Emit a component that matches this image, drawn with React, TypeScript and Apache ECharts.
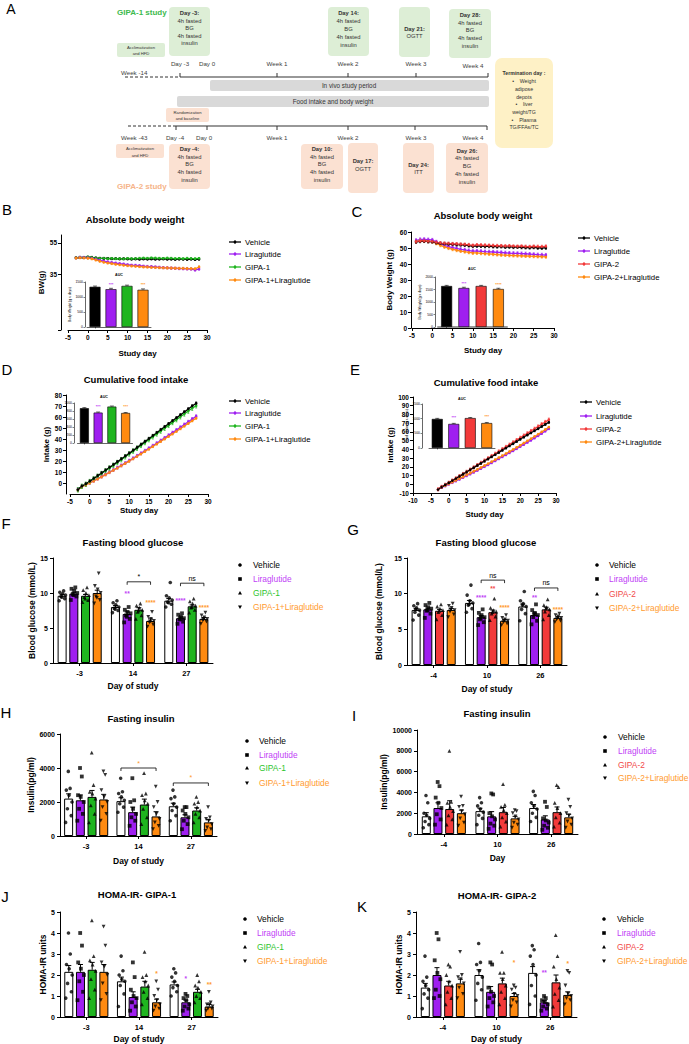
import React, { useEffect, useRef } from "react";
import * as echarts from "echarts";

const FONT = "'Liberation Sans', Arial, Helvetica, sans-serif";
const FONT_A = "'Liberation Sans Narrow', 'Liberation Sans', Arial, sans-serif";

const COL_VEH = "#000000";
const COL_LIRA = "#9f1ff0";
const COL_G1 = "#1fb51f";
const COL_G2 = "#f23a3a";
const COL_COMBO = "#ff8a10";
const TXT_LIRA = "#bf3ff6";
const TXT_G1 = "#2dc52d";
const TXT_G2 = "#f24a4a";
const TXT_COMBO = "#ff9a2e";

const NAMES_1 = ["Vehicle", "Liraglutide", "GIPA-1", "GIPA-1+Liraglutide"];
const NAMES_2 = ["Vehicle", "Liraglutide", "GIPA-2", "GIPA-2+Liraglutide"];

// ---------- B: absolute body weight, GIPA-1 ----------
const B_DAYS = [-3, -2, -1, 0, 1, 2, 3, 4, 5, 6, 7, 8, 9, 10, 11, 12, 13, 14, 15, 16, 17, 18, 19, 20, 21, 22, 23, 24, 25, 26, 27, 28];
const B_VEH = [45.6, 45.8, 45.7, 46.0, 45.9, 45.5, 45.3, 45.2, 45.2, 45.0, 45.1, 44.9, 45.0, 44.9, 44.8, 44.9, 44.7, 44.9, 44.8, 44.9, 44.7, 44.8, 44.9, 44.7, 44.8, 44.6, 44.8, 44.7, 44.6, 44.8, 44.5, 44.7];
const B_LIRA = [45.6, 45.9, 45.8, 45.7, 45.4, 44.8, 44.1, 43.5, 43.0, 42.6, 42.2, 41.9, 41.6, 41.2, 40.9, 40.8, 40.6, 40.3, 40.1, 40.0, 39.8, 39.6, 39.4, 39.3, 39.1, 39.0, 38.8, 38.7, 38.6, 38.5, 37.9, 38.5];
const B_GIPA = [45.7, 45.9, 45.8, 46.1, 45.8, 45.4, 45.2, 45.3, 45.1, 45.2, 45.0, 45.1, 44.9, 45.2, 45.0, 45.1, 45.3, 45.4, 45.3, 45.5, 45.4, 45.3, 45.2, 45.4, 45.3, 45.1, 45.2, 45.0, 45.3, 45.1, 45.0, 45.2];
const B_COMBO = [45.5, 45.7, 45.6, 45.4, 45.0, 44.3, 43.5, 42.9, 42.4, 42.0, 41.6, 41.3, 41.0, 40.7, 40.5, 40.3, 40.1, 39.9, 39.8, 39.6, 39.5, 39.4, 39.3, 39.2, 39.1, 39.0, 38.9, 38.9, 38.8, 38.7, 38.6, 39.8];
const B_SEM = [0.6, 0.7, 0.6, 0.7];
const B_AUC = [1340, 1260, 1370, 1240];
const B_AUC_SEM = [25, 30, 25, 30];

// ---------- C: absolute body weight, GIPA-2 ----------
const C_DAYS = [-4, -3, -2, -1, 0, 1, 2, 3, 4, 5, 6, 7, 8, 9, 10, 11, 12, 13, 14, 15, 16, 17, 18, 19, 20, 21, 22, 23, 24, 25, 26, 27, 28];
const C_VEH = [53.8, 54.2, 54.3, 54.0, 53.9, 53.2, 52.8, 52.6, 52.4, 52.3, 52.1, 52.0, 51.8, 51.5, 51.1, 51.3, 51.2, 51.0, 51.1, 50.9, 50.8, 50.9, 50.6, 50.7, 50.5, 50.6, 50.4, 50.3, 50.2, 50.4, 50.1, 50.0, 50.1];
const C_LIRA = [54.8, 55.3, 55.4, 55.2, 55.0, 53.8, 52.6, 51.6, 50.8, 50.2, 49.7, 49.2, 48.8, 48.4, 48.0, 48.1, 47.9, 47.7, 47.6, 47.5, 47.3, 47.2, 47.0, 46.8, 46.7, 46.6, 46.5, 46.4, 46.2, 46.0, 45.8, 45.7, 45.6];
const C_GIPA = [54.0, 54.4, 54.5, 54.2, 54.1, 53.5, 53.1, 52.9, 52.8, 52.6, 52.5, 52.3, 52.2, 52.0, 51.6, 51.9, 51.8, 51.7, 51.6, 51.5, 51.4, 51.3, 51.2, 51.3, 51.1, 51.0, 51.1, 50.9, 50.8, 51.0, 50.9, 50.8, 51.0];
const C_COMBO = [54.2, 54.6, 54.5, 54.3, 54.0, 52.9, 51.7, 50.7, 49.9, 49.2, 48.6, 48.1, 47.7, 47.3, 46.9, 46.9, 46.7, 46.5, 46.3, 46.1, 45.9, 45.7, 45.6, 45.4, 45.3, 45.2, 45.1, 45.0, 44.9, 44.8, 44.7, 44.6, 44.5];
const C_SEM = [0.9, 1.0, 0.9, 0.9];
const C_AUC = [1640, 1560, 1640, 1520];
const C_AUC_SEM = [25, 30, 25, 30];

// ---------- D: cumulative food intake, GIPA-1 ----------
const D_DAYS = [-3, -2, -1, 0, 1, 2, 3, 4, 5, 6, 7, 8, 9, 10, 11, 12, 13, 14, 15, 16, 17, 18, 19, 20, 21, 22, 23, 24, 25, 26, 27];
const D_VEH = [-6.0, -2.9, -0.9, 1.6, 4.1, 6.6, 9.1, 11.6, 14.1, 16.6, 19.2, 21.8, 24.4, 27.0, 29.6, 32.2, 34.9, 37.6, 40.3, 43.0, 45.7, 48.4, 51.1, 53.8, 56.5, 59.2, 61.9, 64.6, 67.3, 70.0, 72.5];
const D_LIRA = [-6.0, -3.2, -1.6, 0.2, 2.0, 3.9, 5.8, 7.8, 9.8, 11.8, 13.9, 16.0, 18.1, 20.3, 22.5, 24.7, 27.0, 29.3, 31.6, 33.9, 36.2, 38.6, 41.0, 43.4, 45.8, 48.2, 50.7, 53.2, 55.7, 58.2, 60.7];
const D_GIPA = [-6.2, -3.0, -1.1, 1.3, 3.7, 6.1, 8.6, 11.1, 13.6, 16.1, 18.6, 21.2, 23.8, 26.4, 29.0, 31.6, 34.2, 36.8, 39.4, 42.0, 44.6, 47.2, 49.8, 52.4, 55.0, 57.6, 60.2, 62.8, 65.4, 68.0, 70.2];
const D_COMBO = [-6.3, -3.4, -1.8, 0.0, 1.8, 3.7, 5.6, 7.6, 9.6, 11.6, 13.6, 15.7, 17.8, 19.9, 22.1, 24.3, 26.5, 28.7, 30.9, 33.2, 35.5, 37.8, 40.1, 42.4, 44.7, 47.0, 49.4, 51.8, 54.2, 56.6, 59.0];
const D_SEM = [1.2, 1.3, 2.0, 1.0];
const D_AUC = [870, 760, 910, 750];
const D_AUC_SEM = [15, 15, 15, 12];

// ---------- E: cumulative food intake, GIPA-2 ----------
const E_DAYS = [-3, -2, -1, 0, 1, 2, 3, 4, 5, 6, 7, 8, 9, 10, 11, 12, 13, 14, 15, 16, 17, 18, 19, 20, 21, 22, 23, 24, 25, 26, 27, 28];
const E_VEH = [-6.0, -3.2, -0.8, 1.6, 4.1, 6.6, 9.1, 11.6, 14.1, 16.6, 19.1, 21.6, 24.1, 26.6, 29.1, 31.6, 34.1, 36.6, 39.1, 41.6, 44.1, 46.6, 49.1, 51.6, 54.1, 56.6, 59.0, 61.4, 63.8, 66.2, 68.6, 71.0];
const E_LIRA = [-6.0, -3.6, -1.8, 0.1, 2.0, 3.9, 5.8, 7.8, 9.8, 11.8, 13.9, 16.0, 18.1, 20.3, 22.5, 24.7, 27.0, 29.3, 31.6, 33.9, 36.2, 38.5, 40.9, 43.3, 45.7, 48.1, 50.6, 53.1, 55.7, 58.3, 61.0, 63.8];
const E_GIPA = [-5.8, -3.0, -0.6, 1.8, 4.3, 6.8, 9.3, 11.8, 14.3, 16.8, 19.4, 22.0, 24.6, 27.2, 29.8, 32.4, 35.0, 37.6, 40.2, 42.8, 45.4, 48.0, 50.6, 53.2, 55.8, 58.4, 61.0, 63.6, 66.2, 68.8, 71.4, 74.0];
const E_COMBO = [-6.0, -3.4, -1.5, 0.5, 2.5, 4.5, 6.5, 8.5, 10.6, 12.7, 14.8, 16.9, 19.1, 21.3, 23.5, 25.8, 28.1, 30.4, 32.7, 35.0, 37.4, 39.8, 42.2, 44.6, 47.1, 49.6, 52.1, 54.7, 57.3, 59.9, 62.6, 65.4];
const E_SEM = [1.2, 1.2, 1.8, 1.0];
const E_AUC = [990, 820, 1020, 850];
const E_AUC_SEM = [20, 20, 20, 20];

// ---------- F: fasting blood glucose, GIPA-1 ----------
const F_CATS = ["-3", "14", "27"];
const F_MEAN = [[9.6, 8.0, 8.9], [9.9, 7.0, 6.4], [9.6, 7.6, 8.1], [10.0, 6.0, 6.3]];
const F_SEM = [[0.2, 0.2, 0.3], [0.2, 0.3, 0.2], [0.2, 0.3, 0.2], [0.4, 0.3, 0.2]];
const F_PTS = [
  [[8.9, 9.2, 9.5, 9.7, 9.9, 10.1, 10.3, 9.4], [7.2, 7.5, 7.8, 8.0, 8.3, 8.6, 8.9, 7.7], [8.0, 8.4, 8.7, 9.0, 9.3, 9.6, 11.5, 8.6]],
  [[9.0, 9.5, 9.8, 10.0, 10.3, 10.6, 10.8, 9.7], [5.8, 6.3, 6.8, 7.1, 7.3, 7.6, 8.0, 6.6], [5.6, 5.9, 6.2, 6.4, 6.6, 6.9, 7.1, 6.3]],
  [[8.7, 9.0, 9.4, 9.7, 10.0, 10.4, 10.8, 9.2], [6.3, 6.8, 7.3, 7.6, 7.9, 8.2, 8.5, 7.5], [7.2, 7.6, 7.9, 8.2, 8.5, 8.8, 9.2, 8.0]],
  [[8.5, 9.0, 9.5, 10.0, 10.5, 11.0, 12.8, 9.3], [5.2, 5.5, 5.8, 6.0, 6.3, 6.6, 7.3, 5.9], [5.6, 5.9, 6.1, 6.3, 6.5, 6.8, 7.2, 6.2]],
];
const F_STARS = [
  { g: 1, b: 1, y: 10.0, t: "**", c: TXT_LIRA },
  { g: 1, b: 3, y: 8.7, t: "****", c: TXT_COMBO },
  { g: 2, b: 1, y: 9.0, t: "****", c: TXT_LIRA },
  { g: 2, b: 3, y: 8.0, t: "****", c: TXT_COMBO },
];
const F_BRACKETS = [
  { g: 1, b1: 1, b2: 3, y: 11.6, t: "*", c: "#000" },
  { g: 2, b1: 1, b2: 3, y: 11.4, t: "ns", c: "#000" },
];

// ---------- G: fasting blood glucose, GIPA-2 ----------
const G_CATS = ["-4", "10", "26"];
const G_MEAN = [[7.7, 8.7, 8.2], [7.8, 6.7, 7.0], [7.6, 7.4, 7.8], [7.7, 6.2, 6.6]];
const G_SEM = [[0.2, 0.35, 0.35], [0.2, 0.25, 0.3], [0.2, 0.3, 0.3], [0.2, 0.15, 0.15]];
const G_PTS = [
  [[6.3, 7.0, 7.4, 7.7, 8.0, 8.3, 8.6, 7.8], [7.4, 7.9, 8.4, 8.7, 9.0, 9.8, 11.2, 8.5], [6.2, 7.2, 7.8, 8.2, 8.6, 9.0, 10.3, 8.4]],
  [[6.6, 7.2, 7.6, 7.9, 8.1, 8.4, 8.7, 7.7], [5.6, 6.0, 6.4, 6.7, 7.0, 7.3, 7.8, 6.6], [5.7, 6.2, 6.7, 7.0, 7.3, 7.7, 8.5, 7.1]],
  [[6.4, 7.0, 7.4, 7.7, 7.9, 8.2, 8.5, 7.6], [6.3, 6.8, 7.2, 7.5, 7.7, 8.0, 9.3, 7.4], [6.4, 7.0, 7.5, 7.8, 8.1, 8.4, 9.2, 7.9]],
  [[6.7, 7.1, 7.5, 7.7, 8.0, 8.3, 8.6, 7.8], [5.6, 5.8, 6.0, 6.2, 6.4, 6.6, 7.0, 6.2], [6.0, 6.2, 6.4, 6.6, 6.8, 7.0, 7.2, 6.6]],
];
const G_STARS = [
  { g: 1, b: 1, y: 9.4, t: "****", c: TXT_LIRA },
  { g: 1, b: 2, y: 10.7, t: "**", c: TXT_G2 },
  { g: 1, b: 3, y: 8.0, t: "****", c: TXT_COMBO },
  { g: 2, b: 1, y: 9.5, t: "**", c: TXT_LIRA },
  { g: 2, b: 3, y: 7.8, t: "****", c: TXT_COMBO },
];
const G_BRACKETS = [
  { g: 1, b1: 1, b2: 3, y: 11.9, t: "ns", c: "#000" },
  { g: 2, b1: 1, b2: 3, y: 10.8, t: "ns", c: "#000" },
];

// ---------- H: fasting insulin, GIPA-1 ----------
const H_CATS = ["-3", "14", "27"];
const H_MEAN = [[2200, 2050, 1750], [2100, 1400, 1100], [2300, 1850, 1500], [2150, 1150, 800]];
const H_SEM = [[280, 200, 180], [320, 300, 150], [380, 320, 160], [300, 280, 160]];
const H_PTS = [
  [[800, 1200, 1600, 2000, 2400, 2700, 2800, 3800], [1400, 1700, 1900, 2100, 2300, 2500, 2600, 3400], [900, 1200, 1500, 1700, 1900, 2200, 2300, 2700]],
  [[900, 1300, 1600, 2000, 2300, 2400, 3500, 4000], [600, 900, 1100, 1300, 1600, 2000, 2100, 3400], [400, 700, 900, 1100, 1300, 1500, 1700, 1700]],
  [[800, 1300, 1800, 2200, 2500, 2600, 3000, 4900], [700, 1100, 1600, 1900, 2100, 2400, 2500, 3700], [800, 1100, 1300, 1500, 1700, 1900, 2000, 2300]],
  [[900, 1300, 1700, 2000, 2300, 2700, 3600, 3800], [400, 600, 800, 1000, 1300, 1700, 2000, 2900], [300, 400, 500, 700, 900, 1000, 1100, 1700]],
];
const H_BRACKETS = [
  { g: 1, b1: 0, b2: 3, y: 4000, t: "*", c: TXT_COMBO },
  { g: 2, b1: 0, b2: 3, y: 3120, t: "*", c: TXT_COMBO },
];

// ---------- I: fasting insulin, GIPA-2 ----------
const I_CATS = ["-4", "10", "26"];
const I_MEAN = [[1700, 2200, 2500], [2500, 1700, 1400], [2400, 2100, 2100], [2000, 1500, 1600]];
const I_SEM = [[350, 280, 330], [500, 450, 350], [800, 450, 500], [300, 200, 300]];
const I_PTS = [
  [[600, 900, 1200, 1500, 1800, 2000, 3000, 3700], [900, 1500, 1800, 2100, 2400, 2700, 3000, 3500], [1200, 1600, 2000, 2400, 2700, 3000, 3700, 4100]],
  [[900, 1400, 1900, 2500, 3000, 3500, 4600, 5000], [500, 800, 1000, 1400, 1700, 2000, 3800, 3900], [400, 600, 800, 1100, 1300, 1500, 2600, 3100]],
  [[900, 1400, 1800, 2200, 2600, 3000, 3100, 8000], [700, 1200, 1600, 2000, 2300, 2600, 2800, 4800], [700, 1100, 1600, 2000, 2500, 3000, 4500, 4700]],
  [[800, 1100, 1500, 1900, 2200, 2600, 2700, 3600], [600, 900, 1100, 1400, 1700, 2000, 2200, 2300], [600, 900, 1200, 1500, 1800, 2000, 2600, 3300]],
];

// ---------- J: HOMA-IR GIPA-1 ----------
const J_CATS = ["-3", "14", "27"];
const J_MEAN = [[2.15, 1.7, 1.55], [2.15, 0.95, 0.7], [2.25, 1.45, 1.2], [2.15, 0.7, 0.5]];
const J_SEM = [[0.3, 0.2, 0.12], [0.35, 0.25, 0.1], [0.35, 0.25, 0.12], [0.35, 0.15, 0.1]];
const J_PTS = [
  [[0.9, 1.2, 1.6, 2.0, 2.3, 2.5, 3.0, 4.0], [0.5, 1.1, 1.5, 1.7, 1.8, 2.0, 2.2, 2.9], [1.0, 1.2, 1.4, 1.5, 1.7, 1.9, 2.1, 2.3]],
  [[0.8, 1.2, 1.7, 2.0, 2.3, 2.6, 3.4, 4.0], [0.3, 0.5, 0.7, 0.9, 1.0, 1.3, 1.9, 2.6], [0.3, 0.4, 0.5, 0.6, 0.8, 0.9, 1.0, 1.1]],
  [[0.9, 1.3, 1.8, 2.2, 2.5, 2.7, 2.9, 4.6], [0.6, 0.9, 1.2, 1.5, 1.7, 1.9, 2.0, 3.1], [0.7, 0.9, 1.0, 1.2, 1.4, 1.5, 1.7, 2.0]],
  [[0.8, 1.1, 1.6, 2.0, 2.4, 2.6, 3.4, 4.3], [0.3, 0.4, 0.5, 0.6, 0.8, 1.0, 1.3, 1.7], [0.3, 0.4, 0.4, 0.5, 0.6, 0.6, 0.7, 1.2]],
];
const J_STARS = [
  { g: 1, b: 3, y: 2.05, t: "*", c: TXT_COMBO },
  { g: 2, b: 1, y: 1.85, t: "*", c: TXT_LIRA },
  { g: 2, b: 3, y: 1.55, t: "**", c: TXT_COMBO },
];

// ---------- K: HOMA-IR GIPA-2 ----------
const K_CATS = ["-4", "10", "26"];
const K_MEAN = [[1.4, 2.0, 2.1], [2.0, 1.2, 0.7], [1.5, 1.6, 1.65], [1.6, 1.0, 1.05]];
const K_SEM = [[0.2, 0.25, 0.3], [0.35, 0.25, 0.08], [0.2, 0.25, 0.35], [0.2, 0.12, 0.15]];
const K_PTS = [
  [[0.4, 0.9, 1.1, 1.3, 1.5, 1.7, 1.9, 2.9], [0.8, 1.3, 1.6, 1.9, 2.2, 2.5, 2.6, 3.5], [0.6, 1.0, 1.5, 2.0, 2.5, 2.9, 3.2, 3.4]],
  [[0.9, 1.0, 1.3, 1.8, 2.1, 2.7, 3.7, 4.0], [0.5, 0.7, 0.9, 1.0, 1.2, 1.4, 2.5, 2.6], [0.3, 0.4, 0.5, 0.6, 0.7, 0.8, 0.9, 1.0]],
  [[0.6, 0.9, 1.2, 1.5, 1.7, 2.0, 2.4, 2.5], [0.6, 0.9, 1.2, 1.5, 1.8, 2.1, 2.1, 3.1], [0.5, 0.8, 1.1, 1.4, 1.8, 2.4, 2.9, 3.9]],
  [[0.9, 1.1, 1.4, 1.6, 1.8, 1.9, 2.0, 3.1], [0.5, 0.7, 0.8, 1.0, 1.1, 1.3, 1.4, 1.5], [0.6, 0.8, 0.9, 1.0, 1.1, 1.5, 2.1, 2.2]],
];
const K_STARS = [
  { g: 1, b: 3, y: 2.6, t: "*", c: TXT_COMBO },
  { g: 2, b: 1, y: 2.1, t: "**", c: TXT_LIRA },
  { g: 2, b: 3, y: 2.55, t: "*", c: TXT_COMBO },
];

const SYMS = ["circle", "rect", "triangle", "triangle"];
const JITTER = [-3, 2.6, -1.2, 3.4, 0.4, -2.3, 1.5, -0.3];
const BW = 9;
const BGAP = 2.7;
const dxOf = (b: number) => (b - 1.5) * (BW + BGAP);
const plain = (v: number) => String(v);

function T(x: number, y: number, text: string, o: any = {}) {
  const align = o.align || "center";
  const va = o.va || "middle";
  return {
    type: "text",
    x,
    y,
    rotation: o.rot || 0,
    silent: true,
    z: 10,
    style: {
      text,
      fill: o.fill || "#000",
      fontSize: o.size || 8,
      fontFamily: o.family || FONT,
      fontWeight: o.weight || "normal",
      align,
      verticalAlign: va,
      textAlign: align,
      textVerticalAlign: va,
    },
  };
}

function errRender(color: string, cap: number, dx: number, lw: number, both: boolean) {
  return (params: any, api: any) => {
    const x = api.value(0);
    const lo = api.coord([x, api.value(1)]);
    const hi = api.coord([x, api.value(2)]);
    const px = lo[0] + dx;
    const ch: any[] = [
      { type: "line", shape: { x1: px, y1: lo[1], x2: px, y2: hi[1] }, style: { stroke: color, lineWidth: lw } },
      { type: "line", shape: { x1: px - cap, y1: hi[1], x2: px + cap, y2: hi[1] }, style: { stroke: color, lineWidth: lw } },
    ];
    if (both) ch.push({ type: "line", shape: { x1: px - cap, y1: lo[1], x2: px + cap, y2: lo[1] }, style: { stroke: color, lineWidth: lw } });
    return { type: "group", children: ch };
  };
}

function buildOption() {
  const grid: any[] = [];
  const xAxis: any[] = [];
  const yAxis: any[] = [];
  const series: any[] = [];
  const els: any[] = [];

  const lbl = (fs: number, extra: any = {}) => ({ color: "#000", fontSize: fs, fontWeight: "bold", fontFamily: FONT, ...extra });
  const axLine = (color = "#000", width = 1) => ({ show: true, onZero: false, lineStyle: { color, width } });
  const tick = (len = 3, extra: any = {}) => ({ show: true, length: len, lineStyle: { color: "#000", width: 1 }, ...extra });
  const nameStyle = (fs: number) => ({ color: "#000", fontSize: fs, fontWeight: "bold", fontFamily: FONT });
  const addGrid = (g: any) => {
    grid.push({ ...g, containLabel: false });
    return grid.length - 1;
  };

  function starsSeries(gi: number, items: any[], dx: (b: number) => number, fs: number) {
    return {
      type: "custom",
      coordinateSystem: "cartesian2d",
      xAxisIndex: gi,
      yAxisIndex: gi,
      z: 7,
      silent: true,
      clip: false,
      encode: { x: 0, y: 1 },
      data: items.map((s) => [s.g, s.y]),
      renderItem: (params: any, api: any) => {
        const s = items[params.dataIndex];
        const p = api.coord([api.value(0), api.value(1)]);
        return {
          type: "text",
          x: p[0] + dx(s.b || 0),
          y: p[1],
          style: { text: s.t, fill: s.c, fontSize: fs, fontFamily: FONT, fontWeight: "bold", align: "center", verticalAlign: "middle", textAlign: "center", textVerticalAlign: "middle" },
        };
      },
    };
  }

  function bracketSeries(gi: number, items: any[]) {
    return {
      type: "custom",
      coordinateSystem: "cartesian2d",
      xAxisIndex: gi,
      yAxisIndex: gi,
      z: 7,
      silent: true,
      clip: false,
      encode: { x: 0, y: 1 },
      data: items.map((s) => [s.g, s.y]),
      renderItem: (params: any, api: any) => {
        const s = items[params.dataIndex];
        const p = api.coord([api.value(0), api.value(1)]);
        const x1 = p[0] + dxOf(s.b1);
        const x2 = p[0] + dxOf(s.b2);
        const y = p[1];
        return {
          type: "group",
          children: [
            { type: "polyline", shape: { points: [[x1, y + 3], [x1, y], [x2, y], [x2, y + 3]] }, style: { stroke: "#000", lineWidth: 0.8, fill: null } },
            {
              type: "text",
              x: (x1 + x2) / 2,
              y: y - 1.5,
              style: { text: s.t, fill: s.c, fontSize: 7, fontFamily: FONT, align: "center", verticalAlign: "bottom", textAlign: "center", textVerticalAlign: "bottom" },
            },
          ],
        };
      },
    };
  }

  function linePanel(p: any) {
    const gi = addGrid(p.grid);
    xAxis.push({
      gridIndex: gi, type: "value", min: p.x[0], max: p.x[1], interval: p.x[2],
      name: p.xName, nameLocation: "middle", nameGap: p.xGap, nameTextStyle: nameStyle(8),
      axisLine: axLine(), axisTick: tick(3), axisLabel: lbl(6.5, { margin: 4, formatter: plain }), splitLine: { show: false },
    });
    const yl: any = lbl(6.5, { margin: 4, formatter: plain });
    const yt: any = tick(3);
    if (p.yLabels) {
      yl.customValues = p.yLabels;
      yt.customValues = p.yTicks || p.yLabels;
    }
    if (p.hideMin) yl.showMinLabel = false;
    yAxis.push({
      gridIndex: gi, type: "value", min: p.y[0], max: p.y[1], interval: p.y[2], offset: p.yOffset || 0,
      name: p.yName, nameLocation: "middle", nameRotate: 90, nameGap: p.yGap, nameTextStyle: nameStyle(8),
      axisLine: axLine(), axisTick: yt, axisLabel: yl, splitLine: { show: false },
    });
    p.lines.forEach((ln: any) => {
      series.push({
        type: "custom", coordinateSystem: "cartesian2d", xAxisIndex: gi, yAxisIndex: gi, z: 3, silent: true,
        encode: { x: 0, y: [1, 2] },
        data: p.days.map((d: number, i: number) => [d, ln.v[i] - ln.sem, ln.v[i] + ln.sem]),
        renderItem: errRender(ln.color, 1, 0, 0.7, true),
      });
      series.push({
        type: "line", xAxisIndex: gi, yAxisIndex: gi, z: 4, silent: true,
        data: p.days.map((d: number, i: number) => [d, ln.v[i]]),
        symbol: "circle", symbolSize: 2.6, showSymbol: true, showAllSymbol: true,
        itemStyle: { color: ln.color }, lineStyle: { color: ln.color, width: 1.3 },
      });
    });
  }

  function insetPanel(p: any) {
    const gi = addGrid(p.grid);
    xAxis.push({
      gridIndex: gi, type: "category", data: p.names,
      axisLine: axLine(p.axisColor || "#000", p.axisWidth || 0.6),
      axisTick: { show: true, length: 1.5, alignWithLabel: true, lineStyle: { color: "#000", width: 0.5 } },
      axisLabel: { show: false }, splitLine: { show: false },
    });
    yAxis.push({
      gridIndex: gi, type: "value", min: 0, max: p.y[0], interval: p.y[1], offset: p.yOffset || 0,
      name: p.yName, nameLocation: "middle", nameRotate: 90, nameGap: p.yGap || 9,
      nameTextStyle: { color: "#000", fontSize: 3.4, fontFamily: FONT },
      axisLine: axLine("#000", 0.6),
      axisTick: { show: true, length: 1.5, lineStyle: { color: "#000", width: 0.5 } },
      axisLabel: { color: "#000", fontSize: 3.4, fontFamily: FONT, margin: 2, formatter: plain }, splitLine: { show: false },
    });
    series.push({
      type: "bar", xAxisIndex: gi, yAxisIndex: gi, z: 5, silent: true, barWidth: p.barWidth,
      data: p.values.map((v: number, i: number) => ({ value: v, itemStyle: { color: p.colors[i], borderColor: "#000", borderWidth: 0.6 } })),
    });
    series.push({
      type: "custom", coordinateSystem: "cartesian2d", xAxisIndex: gi, yAxisIndex: gi, z: 6, silent: true,
      encode: { x: 0, y: [1, 2] },
      data: p.values.map((v: number, i: number) => [i, v, v + p.sems[i]]),
      renderItem: errRender("#000", 2, 0, 0.6, false),
    });
    series.push(starsSeries(gi, p.stars, () => 0, 4));
    els.push(T(p.auc[0], p.auc[1], "AUC", { size: 3.6, weight: "bold" }));
  }

  function barPanel(p: any) {
    const gi = addGrid(p.grid);
    xAxis.push({
      gridIndex: gi, type: "category", data: p.cats,
      name: p.xName, nameLocation: "middle", nameGap: p.xGap, nameTextStyle: nameStyle(8.5),
      axisLine: axLine(), axisTick: tick(3, { alignWithLabel: true }), axisLabel: lbl(7.5, { margin: 6 }), splitLine: { show: false },
    });
    yAxis.push({
      gridIndex: gi, type: "value", min: 0, max: p.y[0], interval: p.y[1],
      name: p.yName, nameLocation: "middle", nameRotate: 90, nameGap: p.yGap, nameTextStyle: nameStyle(8.5),
      axisLine: axLine(), axisTick: tick(3), axisLabel: lbl(7, { margin: 5, formatter: plain }), splitLine: { show: false },
    });
    p.means.forEach((m: number[], b: number) => {
      series.push({
        type: "bar", xAxisIndex: gi, yAxisIndex: gi, z: 2, silent: true, barWidth: BW, barGap: "30%", data: m,
        itemStyle: { color: b === 0 ? "#ffffff" : p.colors[b], borderColor: "#000", borderWidth: 1 },
      });
    });
    p.means.forEach((m: number[], b: number) => {
      series.push({
        type: "custom", coordinateSystem: "cartesian2d", xAxisIndex: gi, yAxisIndex: gi, z: 4, silent: true,
        encode: { x: 0, y: [1, 2] },
        data: m.map((v, g) => [g, v, v + p.sems[b][g]]),
        renderItem: errRender("#000", 2.5, dxOf(b), 1, false),
      });
      series.push({
        type: "scatter", xAxisIndex: gi, yAxisIndex: gi, z: 5, silent: true,
        symbol: SYMS[b], symbolRotate: b === 3 ? 180 : 0, symbolSize: b === 0 ? 3.6 : 3.8,
        itemStyle: { color: "#000" },
        data: p.points[b].flatMap((arr: number[], g: number) =>
          arr.map((v, k) => ({ value: [g, v], symbolOffset: [dxOf(b) + JITTER[k % JITTER.length], 0] }))
        ),
      });
    });
    if (p.stars && p.stars.length) series.push(starsSeries(gi, p.stars, dxOf, 6.5));
    if (p.brackets && p.brackets.length) series.push(bracketSeries(gi, p.brackets));
  }

  function lineLegend(x0: number, tx: number, ys: number[], names: string[], colors: string[]) {
    names.forEach((n, i) => {
      els.push({ type: "line", silent: true, shape: { x1: x0, y1: ys[i], x2: x0 + 12, y2: ys[i] }, style: { stroke: colors[i], lineWidth: 1.3 } });
      els.push({ type: "circle", silent: true, shape: { cx: x0 + 6, cy: ys[i], r: 1.4 }, style: { fill: colors[i] } });
      els.push({ type: "line", silent: true, shape: { x1: x0 + 6, y1: ys[i] - 2, x2: x0 + 6, y2: ys[i] + 2 }, style: { stroke: colors[i], lineWidth: 0.7 } });
      els.push(T(tx, ys[i], n, { size: 7.8, align: "left" }));
    });
  }

  function markerLegend(mx: number, tx: number, ys: number[], names: string[], tcolors: string[]) {
    names.forEach((n, i) => {
      const y = ys[i];
      if (i === 0) els.push({ type: "circle", silent: true, shape: { cx: mx, cy: y, r: 1.8 }, style: { fill: "#000" } });
      if (i === 1) els.push({ type: "rect", silent: true, shape: { x: mx - 1.8, y: y - 1.8, width: 3.6, height: 3.6 }, style: { fill: "#000" } });
      if (i === 2) els.push({ type: "polygon", silent: true, shape: { points: [[mx, y - 2], [mx + 2, y + 1.6], [mx - 2, y + 1.6]] }, style: { fill: "#000" } });
      if (i === 3) els.push({ type: "polygon", silent: true, shape: { points: [[mx, y + 2], [mx + 2, y - 1.6], [mx - 2, y - 1.6]] }, style: { fill: "#000" } });
      els.push(T(tx, y, n, { size: 8.4, align: "left", fill: tcolors[i] }));
    });
  }

  // ---------------- Panel A (study design) ----------------
  const GREEN = "#ddeed6";
  const PEACH = "#fbe1d2";
  const YELLOW = "#fef1c6";
  const GREY = "#d9d9d9";
  const box = (x: number, y: number, w: number, h: number, fill: string, r = 4) =>
    ({ type: "rect", silent: true, shape: { x, y, width: w, height: h, r }, style: { fill } });
  const boxLines = (cx: number, ys: number[], txts: string[], boldFirst = true, size = 5.8) =>
    txts.forEach((t, i) => els.push(T(cx, ys[i], t, { size, family: FONT_A, weight: boldFirst && i === 0 ? "bold" : "normal", fill: "#333" })));

  els.push(T(11, 9, "A", { size: 14 }));
  els.push(T(117, 12, "GIPA-1 study", { size: 8, weight: "bold", fill: "#3dba4e", align: "left" }));
  els.push(T(117, 186, "GIPA-2 study", { size: 8, weight: "bold", fill: "#f6b48a", align: "left" }));

  els.push(box(169, 7, 41, 49, GREEN));
  boxLines(189.5, [13, 21, 28, 36, 43], ["Day -3:", "4h fasted", "BG", "4h fasted", "insulin"]);
  els.push(box(117, 43, 48, 14, GREEN, 2));
  boxLines(141, [47, 53], ["Acclimatization", "and HFD"], false, 4.2);
  els.push(box(328, 7, 41, 49, GREEN));
  boxLines(348.5, [13, 21, 29, 37, 45], ["Day 14:", "4h fasted", "BG", "4h fasted", "insulin"]);
  els.push(box(399, 7, 31, 50, GREEN));
  boxLines(414.5, [29, 36], ["Day 21:", "OGTT"]);
  els.push(box(449, 9, 42, 49, GREEN));
  boxLines(470, [15, 23, 30, 38, 46], ["Day 28:", "4h fasted", "BG", "4h fasted", "insulin"]);

  // timeline 1
  [["Day -3", 180], ["Day 0", 207], ["Week 1", 277], ["Week 2", 348], ["Week 3", 416], ["Week 4", 473]].forEach(([t, x]: any) =>
    els.push(T(x, t === "Week 4" ? 65 : 63, t, { size: 6.2, family: FONT_A, fill: "#404040" }))
  );
  els.push(T(121, 72, "Week -14", { size: 6.2, family: FONT_A, fill: "#404040", align: "left" }));
  els.push({ type: "line", silent: true, shape: { x1: 125, y1: 77, x2: 180, y2: 77 }, style: { stroke: "#333", lineWidth: 1, lineDash: [3, 2] } });
  els.push({ type: "line", silent: true, shape: { x1: 180, y1: 77, x2: 488, y2: 77 }, style: { stroke: "#333", lineWidth: 1.2 } });
  [180, 277, 348, 416, 488].forEach((x) =>
    els.push({ type: "line", silent: true, shape: { x1: x, y1: 73, x2: x, y2: 77 }, style: { stroke: "#333", lineWidth: 1 } })
  );

  els.push(box(210, 80, 279, 11, GREY, 2));
  els.push(T(349, 85.5, "In vivo study period", { size: 6.3, family: FONT_A, fill: "#333" }));
  els.push(box(177, 96, 312, 11, GREY, 2));
  els.push(T(333, 101.5, "Food intake and body weight", { size: 6.3, family: FONT_A, fill: "#333" }));

  els.push(box(166, 108, 43, 14, PEACH, 2));
  boxLines(187.5, [112, 118], ["Randomization", "and baseline"], false, 4.2);

  // timeline 2
  els.push({ type: "line", silent: true, shape: { x1: 128, y1: 126, x2: 176, y2: 126 }, style: { stroke: "#333", lineWidth: 1, lineDash: [3, 2] } });
  els.push({ type: "line", silent: true, shape: { x1: 176, y1: 126, x2: 487, y2: 126 }, style: { stroke: "#333", lineWidth: 1.2 } });
  [176, 207, 277, 348, 415, 487].forEach((x) =>
    els.push({ type: "line", silent: true, shape: { x1: x, y1: 126, x2: x, y2: 130 }, style: { stroke: "#333", lineWidth: 1 } })
  );
  [["Day -4", 175], ["Day 0", 204], ["Week 1", 277], ["Week 2", 348], ["Week 3", 416], ["Week 4", 473]].forEach(([t, x]: any) =>
    els.push(T(x, 137, t, { size: 6.2, family: FONT_A, fill: "#404040" }))
  );
  els.push(T(121, 137, "Week -43", { size: 6.2, family: FONT_A, fill: "#404040", align: "left" }));

  els.push(box(116, 144, 48, 14, PEACH, 2));
  boxLines(140, [148, 155], ["Acclimatization", "and HFD"], false, 4.2);
  els.push(box(169, 144, 41, 45, PEACH));
  boxLines(189.5, [149, 157, 164, 172, 180], ["Day -4:", "4h fasted", "BG", "4h fasted", "insulin"]);
  els.push(box(301, 144, 42, 45, PEACH));
  boxLines(322, [149, 157, 164, 172, 180], ["Day 10:", "4h fasted", "BG", "4h fasted", "insulin"]);
  els.push(box(348, 143, 30, 50, PEACH));
  boxLines(363, [161, 169], ["Day 17:", "OGTT"]);
  els.push(box(403, 143, 31, 50, PEACH));
  boxLines(418.5, [165, 172], ["Day 24:", "ITT"]);
  els.push(box(446, 143, 42, 50, PEACH));
  boxLines(467, [151, 158, 166, 174, 182], ["Day 26:", "4h fasted", "BG", "4h fasted", "insulin"]);

  els.push(box(495, 58, 58, 90, YELLOW, 7));
  boxLines(524, [73, 81, 89, 97, 104, 112, 120, 127],
    ["Termination day :", "•    Weight", "adipose", "depots", "•    liver", "weight/TG", "•    Plasma", "TG/FFAs/TC"], true, 5.2);

  // ---------------- Panel letters & titles ----------------
  const letters: any[] = [["B", 7, 209], ["C", 357, 211], ["D", 7, 369], ["E", 355, 369], ["F", 6, 523], ["G", 353, 529], ["H", 6, 712], ["I", 354, 715], ["J", 5, 896], ["K", 362, 906]];
  letters.forEach(([t, x, y]) => els.push(T(x, y, t, { size: 15 })));
  const titles: any[] = [
    ["Absolute body weight", 135, 219], ["Absolute body weight", 483, 215],
    ["Cumulative food intake", 136, 379], ["Cumulative food intake", 486, 382],
    ["Fasting blood glucose", 133, 542], ["Fasting blood glucose", 486, 542],
    ["Fasting insulin", 141, 718], ["Fasting insulin", 497, 713],
    ["HOMA-IR- GIPA-1", 137, 894], ["HOMA-IR- GIPA-2", 497, 895],
  ];
  titles.forEach(([t, x, y]) => els.push(T(x, y, t, { size: 9.5, weight: "bold" })));

  // ---------------- B ----------------
  linePanel({
    grid: { left: 68, top: 235, width: 139, height: 95 },
    x: [-5, 30, 5], y: [0, 60, 5], yLabels: [35, 55], yTicks: [0, 35, 55], yOffset: 7,
    xName: "Study day", xGap: 19, yName: "BW(g)", yGap: 14, days: B_DAYS,
    lines: [
      { v: B_VEH, sem: B_SEM[0], color: COL_VEH },
      { v: B_GIPA, sem: B_SEM[2], color: COL_G1 },
      { v: B_LIRA, sem: B_SEM[1], color: COL_LIRA },
      { v: B_COMBO, sem: B_SEM[3], color: COL_COMBO },
    ],
  });
  insetPanel({
    grid: { left: 87, top: 282, width: 64, height: 45 }, names: NAMES_1, y: [1500, 500], yOffset: 2,
    yName: "Body Weight (g x days)", yGap: 9, barWidth: 11, values: B_AUC, sems: B_AUC_SEM,
    colors: [COL_VEH, COL_LIRA, COL_G1, COL_COMBO], auc: [119, 275],
    stars: [{ g: 1, y: 1420, t: "***", c: TXT_LIRA }, { g: 3, y: 1410, t: "***", c: TXT_COMBO }],
  });
  lineLegend(229, 245, [242, 254, 267, 280], NAMES_1, [COL_VEH, COL_LIRA, COL_G1, COL_COMBO]);

  // ---------------- C ----------------
  linePanel({
    grid: { left: 412, top: 232, width: 142, height: 96 },
    x: [-5, 30, 5], y: [0, 60, 10], yOffset: 1,
    xName: "Study day", xGap: 18, yName: "Body Weight (g)", yGap: 18, days: C_DAYS,
    lines: [
      { v: C_LIRA, sem: C_SEM[1], color: COL_LIRA },
      { v: C_COMBO, sem: C_SEM[3], color: COL_COMBO },
      { v: C_VEH, sem: C_SEM[0], color: COL_VEH },
      { v: C_GIPA, sem: C_SEM[2], color: COL_G2 },
    ],
  });
  insetPanel({
    grid: { left: 438, top: 277, width: 69, height: 50 }, names: NAMES_2, y: [2000, 500], yOffset: 3,
    yName: "Body Weight (g x days)", yGap: 10, barWidth: 11, values: C_AUC, sems: C_AUC_SEM,
    colors: [COL_VEH, COL_LIRA, COL_G2, COL_COMBO], auc: [472, 269], axisColor: "#9a9a9a", axisWidth: 2,
    stars: [{ g: 1, y: 1740, t: "***", c: TXT_LIRA }, { g: 3, y: 1720, t: "****", c: TXT_COMBO }],
  });
  lineLegend(578, 594, [238, 251, 264, 277], NAMES_2, [COL_VEH, COL_LIRA, COL_G2, COL_COMBO]);

  // ---------------- D ----------------
  linePanel({
    grid: { left: 70, top: 395, width: 138, height: 99 },
    x: [-5, 30, 5], y: [-10, 80, 10], hideMin: true, yOffset: 4,
    xName: "Study day", xGap: 12, yName: "Intake (g)", yGap: 16, days: D_DAYS,
    lines: [
      { v: D_LIRA, sem: D_SEM[1], color: COL_LIRA },
      { v: D_COMBO, sem: D_SEM[3], color: COL_COMBO },
      { v: D_GIPA, sem: D_SEM[2], color: COL_G1 },
      { v: D_VEH, sem: D_SEM[0], color: COL_VEH },
    ],
  });
  insetPanel({
    grid: { left: 77.5, top: 403, width: 55, height: 40 }, names: NAMES_1, y: [1000, 200], yOffset: 3.5,
    yName: "", barWidth: 9, values: D_AUC, sems: D_AUC_SEM,
    colors: [COL_VEH, COL_LIRA, COL_G1, COL_COMBO], auc: [104, 397],
    stars: [{ g: 1, y: 905, t: "***", c: TXT_LIRA }, { g: 3, y: 915, t: "***", c: TXT_COMBO }],
  });
  lineLegend(229, 245, [401, 413, 426, 439], NAMES_1, [COL_VEH, COL_LIRA, COL_G1, COL_COMBO]);

  // ---------------- E ----------------
  linePanel({
    grid: { left: 413, top: 397, width: 143, height: 96 },
    x: [-10, 30, 5], y: [-10, 100, 10],
    xName: "Study day", xGap: 17, yName: "Intake (g)", yGap: 18, days: E_DAYS,
    lines: [
      { v: E_LIRA, sem: E_SEM[1], color: COL_LIRA },
      { v: E_COMBO, sem: E_SEM[3], color: COL_COMBO },
      { v: E_GIPA, sem: E_SEM[2], color: COL_G2 },
      { v: E_VEH, sem: E_SEM[0], color: COL_VEH },
    ],
  });
  insetPanel({
    grid: { left: 429, top: 404, width: 66, height: 44 }, names: NAMES_2, y: [1500, 500], yOffset: 7,
    yName: "Food intake (g x days)", yGap: 9, barWidth: 11, values: E_AUC, sems: E_AUC_SEM,
    colors: [COL_VEH, COL_LIRA, COL_G2, COL_COMBO], auc: [462, 399],
    stars: [{ g: 1, y: 1040, t: "***", c: TXT_LIRA }, { g: 3, y: 1060, t: "***", c: TXT_COMBO }],
  });
  lineLegend(580, 596, [402, 416, 429, 442], NAMES_2, [COL_VEH, COL_LIRA, COL_G2, COL_COMBO]);

  // ---------------- F-K ----------------
  barPanel({
    grid: { left: 53, top: 558, width: 160, height: 105 }, cats: F_CATS, y: [15, 5],
    xName: "Day of study", xGap: 18, yName: "Blood glucose (mmol/L)", yGap: 15,
    means: F_MEAN, sems: F_SEM, points: F_PTS, colors: [COL_VEH, COL_LIRA, COL_G1, COL_COMBO],
    stars: F_STARS, brackets: F_BRACKETS,
  });
  markerLegend(240, 253, [565, 579, 593, 607], NAMES_1, ["#000", TXT_LIRA, TXT_G1, TXT_COMBO]);

  barPanel({
    grid: { left: 407, top: 558, width: 160, height: 107 }, cats: G_CATS, y: [15, 5],
    xName: "Day of study", xGap: 19, yName: "Blood glucose (mmol/L)", yGap: 24,
    means: G_MEAN, sems: G_SEM, points: G_PTS, colors: [COL_VEH, COL_LIRA, COL_G2, COL_COMBO],
    stars: G_STARS, brackets: G_BRACKETS,
  });
  markerLegend(597, 609, [565, 579, 594, 608], NAMES_2, ["#000", TXT_LIRA, TXT_G2, TXT_COMBO]);

  barPanel({
    grid: { left: 60, top: 734, width: 157, height: 102 }, cats: H_CATS, y: [6000, 2000],
    xName: "Day of study", xGap: 20, yName: "Insulin(pg/ml)", yGap: 22,
    means: H_MEAN, sems: H_SEM, points: H_PTS, colors: [COL_VEH, COL_LIRA, COL_G1, COL_COMBO],
    stars: [], brackets: H_BRACKETS,
  });
  markerLegend(247, 259, [741, 755, 768, 783], NAMES_1, ["#000", TXT_LIRA, TXT_G1, TXT_COMBO]);

  barPanel({
    grid: { left: 417, top: 730, width: 161, height: 104 }, cats: I_CATS, y: [10000, 2000],
    xName: "Day", xGap: 19, yName: "Insulin(pg/ml)", yGap: 25,
    means: I_MEAN, sems: I_SEM, points: I_PTS, colors: [COL_VEH, COL_LIRA, COL_G2, COL_COMBO],
    stars: [], brackets: [],
  });
  markerLegend(605, 618, [737, 751, 765, 778], NAMES_2, ["#000", TXT_LIRA, TXT_G2, TXT_COMBO]);

  barPanel({
    grid: { left: 60, top: 912, width: 158, height: 105 }, cats: J_CATS, y: [5, 1],
    xName: "Day of study", xGap: 17, yName: "HOMA-IR units", yGap: 13,
    means: J_MEAN, sems: J_SEM, points: J_PTS, colors: [COL_VEH, COL_LIRA, COL_G1, COL_COMBO],
    stars: J_STARS, brackets: [],
  });
  markerLegend(245, 257, [919, 933, 947, 961], NAMES_1, ["#000", TXT_LIRA, TXT_G1, TXT_COMBO]);

  barPanel({
    grid: { left: 416, top: 912, width: 161, height: 105 }, cats: K_CATS, y: [5, 1],
    xName: "Day of study", xGap: 17, yName: "HOMA-IR units", yGap: 10,
    means: K_MEAN, sems: K_SEM, points: K_PTS, colors: [COL_VEH, COL_LIRA, COL_G2, COL_COMBO],
    stars: K_STARS, brackets: [],
  });
  markerLegend(604, 617, [919, 933, 947, 961], NAMES_2, ["#000", TXT_LIRA, TXT_G2, TXT_COMBO]);

  return {
    animation: false,
    backgroundColor: "#ffffff",
    grid,
    xAxis,
    yAxis,
    series,
    graphic: { elements: els },
  };
}

export default function App() {
  const ref = useRef<HTMLDivElement>(null);
  useEffect(() => {
    if (!ref.current) return;
    const chart = echarts.init(ref.current, null, { renderer: "svg", width: 689, height: 1044 });
    chart.setOption(buildOption() as any);
    return () => chart.dispose();
  }, []);
  return (
    <div
      ref={ref}
      style={{ position: "absolute", left: 0, top: 0, width: 689, height: 1044, background: "#fff" }}
    />
  );
}
